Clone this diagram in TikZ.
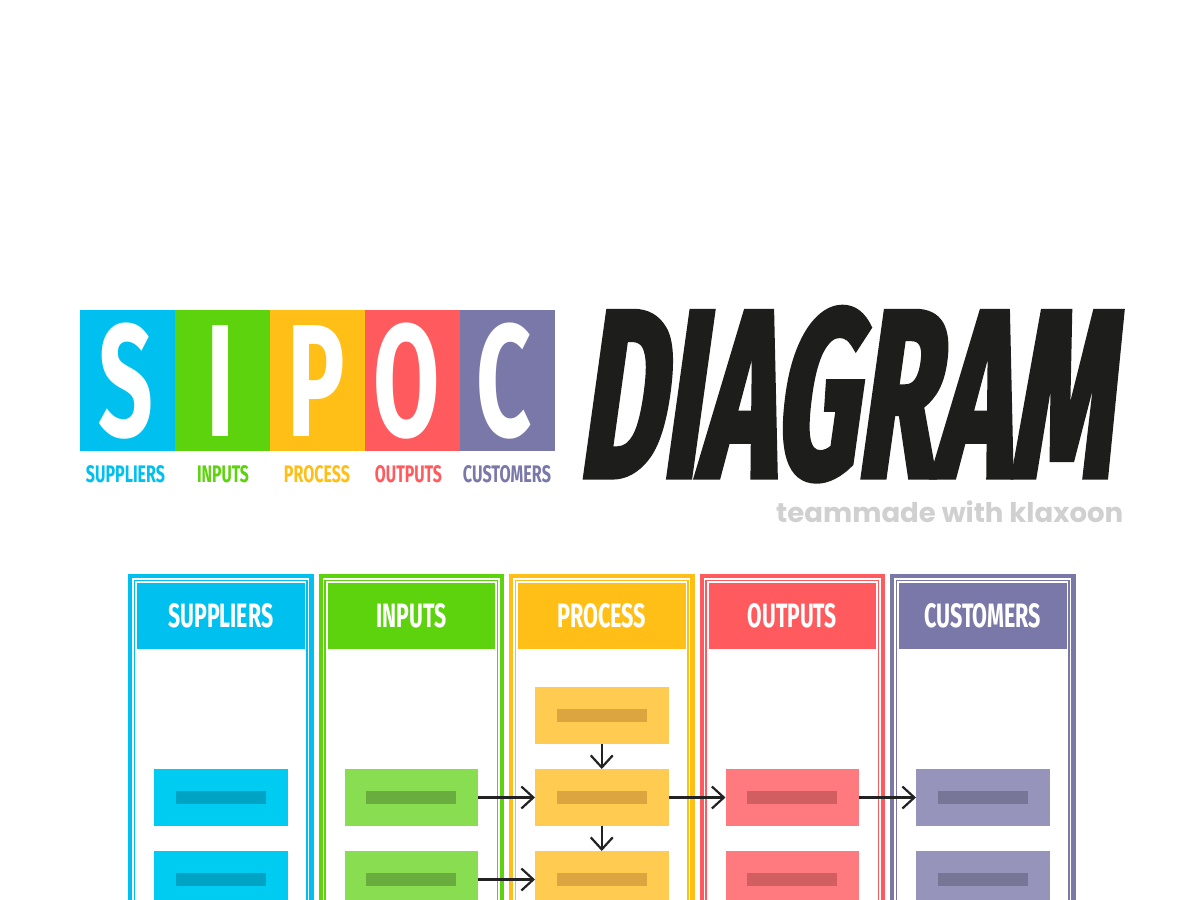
\documentclass[tikz,border=0pt]{standalone}
\usepackage{fontspec}
\usepackage{graphicx}
\usetikzlibrary{arrows.meta}
\newfontfamily\condf[FakeStretch=0.6]{Fira Sans}
\newfontfamily\bigf[FakeStretch=0.6]{Fira Sans}
\newfontfamily\diagf[FakeStretch=0.5,FakeSlant=0.13,FakeBold=2]{Fira Sans}
\newfontfamily\klaxf{Poppins}
\definecolor{cS}{HTML}{00C0EF}
\definecolor{cSl}{HTML}{00CCF2}
\definecolor{cSd}{HTML}{00A3C4}
\definecolor{cI}{HTML}{5DD30E}
\definecolor{cIl}{HTML}{88DD50}
\definecolor{cId}{HTML}{6AAD3F}
\definecolor{cP}{HTML}{FFBF17}
\definecolor{cPl}{HTML}{FFCB50}
\definecolor{cPd}{HTML}{DCA540}
\definecolor{cO}{HTML}{FF5A5E}
\definecolor{cOl}{HTML}{FF7A7E}
\definecolor{cOd}{HTML}{D15F62}
\definecolor{cC}{HTML}{7A78A9}
\definecolor{cCl}{HTML}{9794BC}
\definecolor{cCd}{HTML}{787697}
\definecolor{ink}{HTML}{1D1D1B}
\definecolor{arrowc}{HTML}{222222}
\definecolor{klax}{HTML}{D0D0D0}
\tikzset{
  sq/.style={inner sep=0pt, outer sep=0pt, minimum width=95pt, minimum height=141pt},
  bigletter/.style={inner sep=0pt, text=white, font=\bigf\fontsize{160}{160}\selectfont\bfseries},
  toplabel/.style={inner sep=0pt},
  colouter/.style={line width=4.4pt},
  colinner/.style={line width=1.3pt},
  hdr/.style={inner sep=0pt, outer sep=0pt, minimum width=167.5pt, minimum height=66.3pt, text=white},
  card/.style={inner sep=0pt, outer sep=0pt, minimum width=133.5pt, minimum height=57pt},
  cardbar/.style={inner sep=0pt, outer sep=0pt, minimum width=90pt, minimum height=12.6pt},
  arr/.style={draw=arrowc, line width=2.2pt, -{Straight Barb[length=12pt,width=22pt,line width=2.2pt]}},
}
\begin{document}
\begin{tikzpicture}[x=1pt,y=-1pt]
\useasboundingbox (0,0) rectangle (1200,900);
\fill[white] (0,0) rectangle (1200,900);
\begin{scope}
\clip (0,0) rectangle (1200,900);
% --- top SIPOC squares ---
\node[sq,fill=cS] (sqS) at (127.5,380.5) {};
\node[sq,fill=cI] (sqI) at (222.2,380.5) {};
\node[sq,fill=cP] (sqP) at (317.1,380.5) {};
\node[sq,fill=cO] (sqO) at (412.5,380.5) {};
\node[sq,fill=cC] (sqC) at (507.2,380.5) {};
\node[bigletter] (lS) at (126,381) {S};
\node[bigletter] (lI) at (221,381) {I};
\node[bigletter] (lP) at (316,381) {P};
\node[bigletter] (lO) at (407,381) {O};
\node[bigletter] (lC) at (504,381) {C};
% labels under squares
\node[toplabel,text=cS] (tS) at (125.5,474.5) {\resizebox{79pt}{17pt}{\condf\bfseries SUPPLIERS}};
\node[toplabel,text=cI] (tI) at (223,474.5) {\resizebox{52pt}{17pt}{\condf\bfseries INPUTS}};
\node[toplabel,text=cP] (tP) at (317,474.5) {\resizebox{66pt}{17pt}{\condf\bfseries PROCESS}};
\node[toplabel,text=cO] (tO) at (408.5,474.5) {\resizebox{67pt}{17pt}{\condf\bfseries OUTPUTS}};
\node[toplabel,text=cC] (tC) at (507,474.5) {\resizebox{88pt}{17pt}{\condf\bfseries CUSTOMERS}};
% DIAGRAM
\node[inner sep=0pt, anchor=south west, text=ink] (diag) at (577,481.5) {\resizebox{531pt}{170pt}{\diagf\bfseries DIAGRAM}};
\node[inner sep=0pt, anchor=base west, text=klax] (klx) at (776,522.7) {\resizebox{347pt}{21.7pt}{\klaxf\bfseries teammade with klaxoon}};
% --- columns ---
\foreach \L/\nm/\cb/\lab/\w in {128/S/cS/SUPPLIERS/105, 318.5/I/cI/INPUTS/70, 509/P/cP/PROCESS/89, 699.5/O/cO/OUTPUTS/89, 890/C/cC/CUSTOMERS/117}{
  \draw[colouter,draw=\cb] (\L+2.2,576.2) rectangle (\L+183.3,920);
  \draw[colinner,draw=\cb] (\L+6.6,580.6) rectangle (\L+178.9,920);
  \node[hdr,fill=\cb] (h\nm) at (\L+92.75,616.2) {\resizebox{\w pt}{24pt}{\condf\bfseries \lab}};
}
% --- cards ---
\foreach \L/\nm/\cl/\cd in {128/S/cSl/cSd, 318.5/I/cIl/cId, 509/P/cPl/cPd, 699.5/O/cOl/cOd, 890/C/cCl/cCd}{
  \node[card,fill=\cl] (\nm2) at (\L+92.75,797.5) {};
  \node[cardbar,fill=\cd] (\nm2b) at (\nm2.center) {};
  \node[card,fill=\cl] (\nm3) at (\L+92.75,879.5) {};
  \node[cardbar,fill=\cd] (\nm3b) at (\nm3.center) {};
}
\node[card,fill=cPl] (P1) at (601.75,715.5) {};
\node[cardbar,fill=cPd] (P1b) at (P1.center) {};
% --- arrows ---
\draw[arr] (P1) -- (P2);
\draw[arr] (P2) -- (P3);
\draw[arr] (I2) -- (P2);
\draw[arr] (I3) -- (P3);
\draw[arr] (P2) -- (O2);
\draw[arr] (O2) -- (C2);
\end{scope}
\end{tikzpicture}
\end{document}
